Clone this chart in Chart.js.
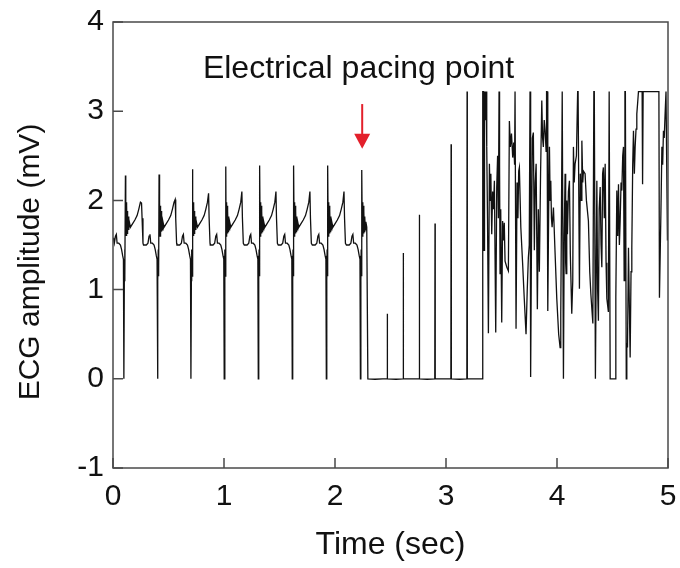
<!DOCTYPE html>
<html>
<head>
<meta charset="utf-8">
<script src="https://cdn.jsdelivr.net/npm/chart.js@4.4.1/dist/chart.umd.min.js"></script>
<style>
html,body{margin:0;padding:0;background:#fff;}
#wrap{width:680px;height:568px;}
</style>
</head>
<body>
<div id="wrap"><canvas id="c" width="680" height="568"></canvas></div>
<script>
// ---- data ----
const xTicks = [0, 1, 2, 3, 4, 5];
const yTicks = [-1, 0, 1, 2, 3, 4];
const xTitle = 'Time (sec)';
const yTitle = 'ECG amplitude (mV)';
const noteText = 'Electrical pacing point';
const noteX = 0.81, noteY = 3.37;       // text anchor (data units)
const arrowX = 2.245, arrowTop = 3.08, arrowTip = 2.58;

// sinus beats before pacing
const beatTimes = [0.112, 0.415, 0.716, 1.016, 1.323, 1.629, 1.936, 2.243];
const rPeaks    = [2.28, 2.29, 2.35, 2.38, 2.39, 2.39, 2.39, 2.34];
const tPeaks    = [1.97, 2.01, 2.08, 2.10, 2.10, 2.10, 2.10, null];
// one beat, offsets (s) from the R spike and values (mV); R at index 15, T at index 32
const beatOffsets = [-0.14, -0.115, -0.10, -0.09, -0.082, -0.075, -0.06, -0.045, -0.035, -0.025, -0.018,
  -0.014, -0.010, -0.007, -0.004, 0, 0.003, 0.006, 0.009, 0.012, 0.015, 0.018, 0.021, 0.025, 0.03,
  0.035, 0.045, 0.065, 0.085, 0.105, 0.12, 0.135, 0.145, 0.150, 0.158];
const beatShape = [1.50, 1.50, 1.52, 1.60, 1.62, 1.52, 1.52, 1.50, 1.45, 1.38, 1.34,
  0.00, 1.10, 1.45, 1.15, 2.35, 1.60, 1.98, 1.60, 1.94, 1.63, 1.88, 1.65, 1.82, 1.67,
  1.76, 1.70, 1.74, 1.78, 1.83, 1.90, 1.98, 2.10, 1.80, 1.52];
const startTimes  = [0.0, 0.006];
const startValues = [1.58, 1.56];

// flat segment after the pacing point
const flatTimes  = [2.286, 2.296, 2.36, 2.43, 2.55, 2.69, 2.83, 2.97, 3.12, 3.26, 3.329];
const flatValues = [1.70, 0.00, -0.005, 0.00, -0.005, 0.00, -0.005, 0.00, -0.005, 0.00, 0.00];
// pacing stimulus spikes on the flat line
const pacingTimes = [2.471, 2.615, 2.760, 2.901, 3.046, 3.190];
const pacingPeaks = [0.73, 1.41, 1.84, 1.74, 2.63, 3.22];

// fibrillation-like part (saturates at 3.22 mV)
const chaosTimes = [3.331, 3.338, 3.341, 3.343, 3.347, 3.352, 3.358, 3.362, 3.367, 3.374, 3.382, 3.391,
  3.398, 3.404, 3.412, 3.420, 3.427, 3.436, 3.448, 3.457, 3.465, 3.472, 3.478, 3.481, 3.484, 3.487,
  3.493, 3.502, 3.510, 3.518, 3.525, 3.532, 3.548, 3.562, 3.571, 3.580, 3.590, 3.601, 3.610, 3.618,
  3.622, 3.626, 3.631, 3.640, 3.648, 3.655, 3.661, 3.674, 3.690, 3.705, 3.721, 3.732, 3.742, 3.750,
  3.757, 3.761, 3.764, 3.770, 3.778, 3.787, 3.796, 3.804, 3.812, 3.823, 3.832, 3.841, 3.852, 3.863,
  3.870, 3.877, 3.885, 3.893, 3.902, 3.906, 3.910, 3.917, 3.925, 3.932, 3.938, 3.944, 3.950, 3.956,
  3.968, 3.980, 3.998, 4.015, 4.028, 4.034, 4.040, 4.047, 4.051, 4.058, 4.065, 4.073, 4.078, 4.082,
  4.088, 4.094, 4.103, 4.112, 4.120, 4.133, 4.142, 4.148, 4.155, 4.163, 4.175, 4.186, 4.190, 4.202,
  4.210, 4.218, 4.224, 4.232, 4.238, 4.253, 4.265, 4.283, 4.295, 4.305, 4.323, 4.332, 4.336, 4.346,
  4.359, 4.366, 4.373, 4.380, 4.389, 4.397, 4.404, 4.411, 4.418, 4.426, 4.434, 4.442, 4.449, 4.463,
  4.470, 4.474, 4.479, 4.524, 4.530, 4.539, 4.547, 4.554, 4.562, 4.569, 4.577, 4.584, 4.592, 4.599,
  4.605, 4.612, 4.616, 4.624, 4.629, 4.635, 4.644, 4.652, 4.659, 4.667, 4.674, 4.682, 4.689, 4.697,
  4.704, 4.712, 4.719, 4.727, 4.734, 4.767, 4.771, 4.776, 4.918, 4.923, 4.936, 4.945, 4.952, 4.959,
  4.966, 4.974, 4.982, 4.990, 4.995];
const chaosValues = [3.22, 3.22, 3.00, 1.44, 3.10, 3.22, 2.90, 3.22, 2.60, 1.80, 0.51, 2.41,
  2.00, 2.30, 1.62, 2.10, 1.90, 2.22, 0.52, 2.15, 2.50, 1.80, 3.22, 3.22, 2.40, 1.18,
  1.90, 0.63, 1.77, 1.55, 1.75, 1.32, 1.25, 1.21, 2.89, 2.60, 2.75, 2.48, 2.65, 2.40,
  3.22, 3.22, 0.56, 2.20, 1.80, 2.33, 2.37, 1.70, 1.30, 0.90, 0.50, 1.00, 1.36, 1.50,
  3.22, 3.22, 0.02, 1.50, 2.70, 2.76, 1.44, 2.20, 2.41, 0.78, 1.90, 1.20, 2.30, 3.12,
  2.70, 2.60, 2.90, 2.78, 2.55, 3.22, 3.22, 0.76, 1.90, 2.60, 2.00, 2.22, 1.80, 1.70,
  1.92, 1.50, 0.90, 0.50, 0.35, 0.73, 1.80, 3.22, 3.22, 0.00, 1.60, 2.30, 1.30, 1.18,
  2.00, 1.62, 2.10, 2.22, 1.40, 0.73, 1.10, 2.60, 2.20, 2.41, 2.50, 3.22, 3.22, 1.01,
  2.30, 2.00, 2.67, 2.20, 2.33, 2.30, 2.00, 1.77, 1.20, 0.95, 0.62, 3.22, 3.22, 0.00,
  2.22, 1.00, 0.65, 1.90, 2.15, 1.50, 1.25, 2.30, 2.37, 1.80, 2.41, 1.30, 0.90, 0.75,
  3.22, 3.22, 0.00, 0.00, 0.92, 2.11, 1.60, 2.18, 1.50, 1.77, 2.20, 2.11, 2.50, 2.60,
  1.10, 3.22, 3.22, 0.00, 0.40, 0.35, 1.47, 0.80, 0.24, 1.20, 1.47, 2.40, 2.78, 2.30,
  2.60, 2.80, 2.97, 3.10, 3.22, 3.22, 2.18, 3.22, 3.22, 0.91, 1.85, 2.60, 2.40, 2.78,
  2.70, 2.97, 3.22, 3.22, 1.55];

// ---- build the series from the arrays ----
const pts = [];
startTimes.forEach((t, i) => pts.push({x: t, y: startValues[i]}));
beatTimes.forEach((bt, i) => {
  beatOffsets.forEach((o, j) => {
    if (tPeaks[i] === null && o > 0.046) return;
    let v = beatShape[j];
    if (j === 15) v = rPeaks[i];
    if (j === 32) v = tPeaks[i];
    const t = +(bt + o).toFixed(4);
    if (t < 0.01) return;
    pts.push({x: t, y: v});
  });
});
flatTimes.forEach((t, i) => pts.push({x: t, y: flatValues[i]}));
pacingTimes.forEach((t, i) => {
  pts.push({x: +(t - 0.002).toFixed(4), y: 0});
  pts.push({x: t, y: pacingPeaks[i]});
  pts.push({x: +(t + 0.002).toFixed(4), y: 0});
});
chaosTimes.forEach((t, i) => pts.push({x: t, y: chaosValues[i]}));
pts.sort((a, b) => a.x - b.x);

const FONT = "'Liberation Sans', Arial, Helvetica, sans-serif";

const framePlugin = {
  id: 'frame',
  afterDraw(chart) {
    const {ctx, chartArea: a, scales: {x, y}} = chart;
    ctx.save();
    ctx.strokeStyle = '#4a4a4a';
    ctx.lineWidth = 1.5;
    ctx.strokeRect(a.left, a.top, a.right - a.left, a.bottom - a.top);
    ctx.beginPath();
    yTicks.forEach(v => { const py = y.getPixelForValue(v); ctx.moveTo(a.left, py); ctx.lineTo(a.left + 10, py); });
    xTicks.forEach(v => { const px = x.getPixelForValue(v); ctx.moveTo(px, a.bottom); ctx.lineTo(px, a.bottom - 10); });
    ctx.stroke();
    // y axis title
    ctx.fillStyle = '#111';
    ctx.font = '30px ' + FONT;
    ctx.save();
    ctx.translate(31, 262);
    ctx.rotate(-Math.PI / 2);
    ctx.textAlign = 'center';
    ctx.textBaseline = 'middle';
    ctx.fillText(yTitle, 0, 0);
    ctx.restore();
    // annotation
    ctx.font = '32px ' + FONT;
    ctx.textAlign = 'left';
    ctx.textBaseline = 'alphabetic';
    ctx.fillText(noteText, x.getPixelForValue(noteX), y.getPixelForValue(noteY));
    // red arrow
    const ax = x.getPixelForValue(arrowX);
    const yTop = y.getPixelForValue(arrowTop), yTip = y.getPixelForValue(arrowTip);
    const headH = 15, headW = 8;
    ctx.strokeStyle = '#e3202b';
    ctx.fillStyle = '#e3202b';
    ctx.lineWidth = 2;
    ctx.beginPath(); ctx.moveTo(ax, yTop); ctx.lineTo(ax, yTip - headH + 1); ctx.stroke();
    ctx.beginPath(); ctx.moveTo(ax - headW, yTip - headH); ctx.lineTo(ax + headW, yTip - headH); ctx.lineTo(ax, yTip); ctx.closePath(); ctx.fill();
    ctx.restore();
  }
};

new Chart(document.getElementById('c'), {
  type: 'line',
  data: { datasets: [{ data: pts, borderColor: '#111', borderWidth: 1.3, pointRadius: 0, tension: 0, fill: false }] },
  options: {
    responsive: false,
    animation: false,
    parsing: false,
    normalized: true,
    layout: { padding: { top: 22, right: 12, left: 0, bottom: 0 } },
    plugins: { legend: { display: false }, tooltip: { enabled: false } },
    scales: {
      x: {
        type: 'linear', min: 0, max: 5,
        afterBuildTicks: s => { s.ticks = xTicks.map(v => ({value: v})); },
        afterFit: s => { s.height = 100; s.paddingLeft = 0; s.paddingRight = 0; },
        grid: { display: true, drawOnChartArea: false, drawTicks: false },
        border: { display: false },
        ticks: { color: '#111', padding: 11, font: { family: FONT, size: 30 }, maxRotation: 0 },
        title: { display: true, text: xTitle, color: '#111', font: { family: FONT, size: 32 }, padding: { top: 4 } }
      },
      y: {
        type: 'linear', min: -1, max: 4,
        afterBuildTicks: s => { s.ticks = yTicks.map(v => ({value: v})); },
        afterFit: s => { s.width = 113; s.paddingTop = 0; s.paddingBottom = 0; },
        grid: { display: true, drawOnChartArea: false, drawTicks: false },
        border: { display: false },
        ticks: { color: '#111', padding: 9, font: { family: FONT, size: 30 } }
      }
    }
  },
  plugins: [framePlugin]
});
</script>
</body>
</html>
